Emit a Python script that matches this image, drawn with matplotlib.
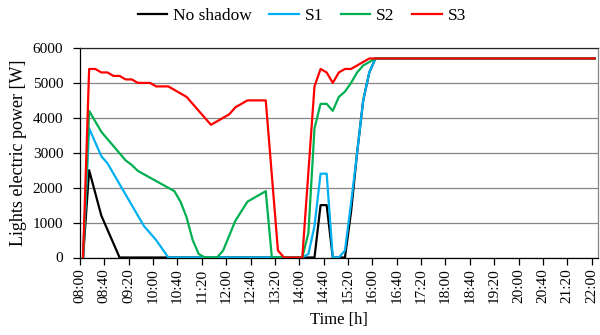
import matplotlib
matplotlib.use("Agg")
import matplotlib.pyplot as plt
import numpy as np

# lights electric power over the day, one series per shading case
# (times as HH:MM, power in W; line is straight between listed points)
times_ns = ["08:00", "08:10", "08:30", "09:00", "14:20", "14:30", "14:40", "14:50",
            "15:10", "15:20", "15:30", "15:40", "15:50", "16:00", "22:00"]
power_ns = [0, 2500, 1200, 0, 0, 1500, 1500, 0,
            0, 1300, 3000, 4500, 5300, 5700, 5700]

times_s1 = ["08:00", "08:10", "08:30", "08:40", "09:40", "10:00", "10:20", "14:00",
            "14:10", "14:20", "14:30", "14:40", "14:50", "15:00", "15:10", "15:20",
            "15:30", "15:40", "15:50", "16:00", "22:00"]
power_s1 = [0, 3700, 2900, 2700, 900, 500, 0, 0,
            100, 900, 2400, 2400, 0, 0, 200, 1550,
            3000, 4500, 5300, 5700, 5700]

times_s2 = ["08:00", "08:10", "08:30", "09:10", "09:20", "09:30", "10:30", "10:40",
            "10:50", "11:00", "11:10", "11:20", "11:40", "11:50", "12:10", "12:30",
            "13:00", "13:10", "14:00", "14:10", "14:20", "14:30", "14:40", "14:50",
            "15:00", "15:10", "15:20", "15:30", "15:40", "15:50", "16:00", "22:00"]
power_s2 = [0, 4200, 3600, 2780, 2650, 2480, 1900, 1600,
            1150, 500, 100, 0, 0, 200, 1050, 1600,
            1900, 0, 0, 700, 3700, 4400, 4400, 4200,
            4600, 4750, 5000, 5300, 5500, 5600, 5700, 5700]

times_s3 = ["08:00", "08:10", "08:20", "08:30", "08:40", "08:50", "09:00", "09:10",
            "09:20", "09:30", "09:50", "10:00", "10:20", "10:50", "11:30", "12:00",
            "12:10", "12:30", "13:00", "13:20", "13:30", "14:00", "14:20", "14:30",
            "14:40", "14:50", "15:00", "15:10", "15:20", "15:30", "15:40", "15:50",
            "22:00"]
power_s3 = [0, 5400, 5400, 5300, 5300, 5200, 5200, 5100,
            5100, 5000, 5000, 4900, 4900, 4600, 3800, 4100,
            4300, 4500, 4500, 200, 0, 0, 4900, 5400,
            5300, 5000, 5300, 5400, 5400, 5500, 5600, 5700,
            5700]

series = [("No shadow", times_ns, power_ns, "#000000"),
          ("S1", times_s1, power_s1, "#00B0F0"),
          ("S2", times_s2, power_s2, "#00B050"),
          ("S3", times_s3, power_s3, "#FF0000")]

tick_labels = ["08:00", "08:40", "09:20", "10:00", "10:40", "11:20", "12:00", "12:40",
               "13:20", "14:00", "14:40", "15:20", "16:00", "16:40", "17:20", "18:00",
               "18:40", "19:20", "20:00", "20:40", "21:20", "22:00"]


def to_min(hhmm):
    # minutes after 08:00
    h, m = hhmm.split(":")
    return (int(h) - 8) * 60 + int(m)


plt.rcParams['font.family'] = ['Liberation Serif', 'DejaVu Serif']

fig = plt.figure(figsize=(6, 3.35), dpi=100)
ax = fig.add_axes([80 / 600., 1 - 257.5 / 335., 517.7 / 600., 209.5 / 335.])

for name, tt, pp, c in series:
    ax.plot([to_min(t) for t in tt], pp, color=c, lw=1.6, label=name,
            solid_joinstyle='round', zorder=3)

# category-style axis: each 10 min slot is one category, ticks sit on the
# slot boundaries, so they are half a slot left of the labelled time
ax.set_xlim(-5, 845)
ax.set_xticks([to_min(t) - 5 for t in tick_labels])
ax.set_xticklabels(tick_labels, rotation=90)
ax.set_ylim(0, 6000)
ax.set_yticks(np.arange(0, 6001, 1000))

ax.yaxis.grid(True, color='#868686', lw=0.9)
ax.set_axisbelow(True)
ax.tick_params(axis='both', labelsize=11, length=5, width=0.9, color='black')
ax.tick_params(axis='y', pad=7)
ax.tick_params(axis='x', pad=3)

ax.spines['left'].set_color('black')
ax.spines['bottom'].set_color('black')
ax.spines['top'].set_color('#262626')
ax.spines['right'].set_color('#868686')
for s in ax.spines.values():
    s.set_linewidth(0.9)

ax.set_ylabel('Lights electric power [W]', fontsize=13, labelpad=4)
ax.set_xlabel('Time [h]', fontsize=12, labelpad=6)

fig.legend(loc='center', bbox_to_anchor=(0.503, 1 - 16 / 335.), ncol=4,
           frameon=False, fontsize=12.5, handlelength=1.7, handletextpad=0.35,
           columnspacing=1.0)

plt.savefig("out.png", dpi=100)
